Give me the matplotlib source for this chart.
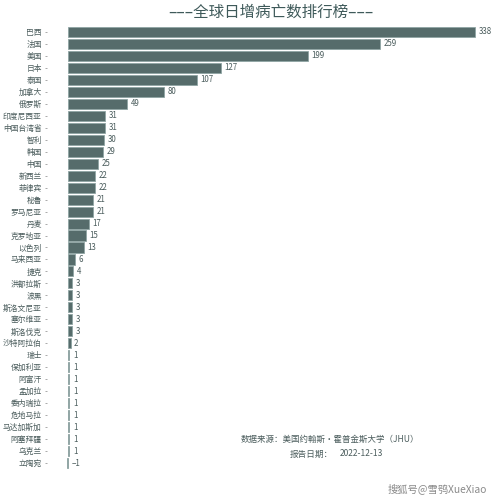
import matplotlib
matplotlib.use('Agg')
import matplotlib.pyplot as plt

plt.rcParams['font.family'] = ['Noto Sans CJK SC', 'DejaVu Sans']

countries = ['巴西', '法国', '美国', '日本', '泰国', '加拿大', '俄罗斯', '印度尼西亚', '中国台湾省',
             '智利', '韩国', '中国', '新西兰', '菲律宾', '秘鲁', '罗马尼亚', '丹麦', '克罗地亚',
             '以色列', '马来西亚', '捷克', '洪都拉斯', '波黑', '斯洛文尼亚', '塞尔维亚', '斯洛伐克',
             '沙特阿拉伯', '瑞士', '保加利亚', '阿富汗', '孟加拉', '委内瑞拉', '危地马拉',
             '马达加斯加', '阿塞拜疆', '乌克兰', '立陶宛']
deaths = [338, 259, 199, 127, 107, 80, 49, 31, 31,
          30, 29, 25, 22, 22, 21, 21, 17, 15,
          13, 6, 4, 3, 3, 3, 3, 3,
          2, 1, 1, 1, 1, 1, 1,
          1, 1, 1, -1]

text_color = '#4a5c5c'

fig = plt.figure(figsize=(5, 5), dpi=100)
ax = fig.add_axes([46.6 / 500, 1 - 469 / 500, 433 / 500, 443 / 500])

ax.barh(countries, deaths, height=0.84, color='#566c6b', edgecolor='#8fa5a4', linewidth=0.6)
for i, v in enumerate(deaths):
    ax.text(max(v, 0) + 3, i, str(v).replace('-', '\u2212'), va='center', ha='left',
            fontsize=5.7, color=text_color)

ax.set_xlim(-17.9, 342)
ax.set_ylim(len(countries) - 0.5, -0.5)
ax.xaxis.set_visible(False)
ax.tick_params(axis='y', length=1.5, width=0.5, color='#888888', pad=2, labelsize=5.6,
               labelcolor=text_color)
for s in ax.spines.values():
    s.set_visible(False)

fig.text(271 / 500, 1 - 12 / 500, '–––全球日增病亡数排行榜–––', ha='center', va='center',
         fontsize=11.2, color='#3f5a5a')
fig.text(241 / 500, 1 - 439 / 500, '数据来源：美国约翰斯·霍普金斯大学（JHU）', ha='left', va='center',
         fontsize=6.1, color=text_color)
fig.text(290 / 500, 1 - 454 / 500, '报告日期：', ha='left', va='center', fontsize=6.2, color=text_color)
fig.text(340 / 500, 1 - 454 / 500, '2022-12-13', ha='left', va='center', fontsize=6.1, color=text_color)
fig.text(388 / 500, 1 - 489 / 500, '搜狐号@雪鸮XueXiao', ha='left', va='center', fontsize=7.4,
         color='#8a8a8a')

fig.savefig('out.png', dpi=100)
